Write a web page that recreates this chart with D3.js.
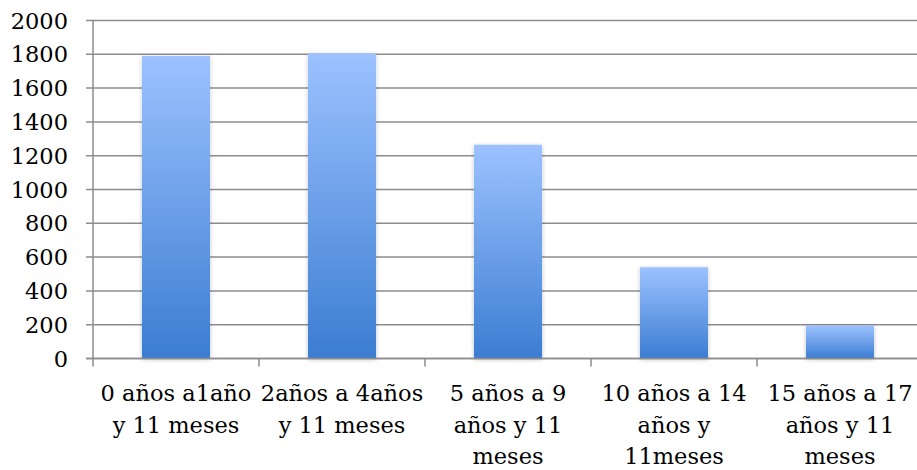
<!DOCTYPE html>
<html>
<head>
<meta charset="utf-8">
<script src="https://cdn.jsdelivr.net/npm/d3@7"></script>
<style>
  html, body { margin: 0; padding: 0; background: #fff; }
  svg { display: block; }
  text { font-family: "DejaVu Serif", "Liberation Serif", serif; fill: #000; }
</style>
</head>
<body>
<svg id="chart" width="917" height="470"></svg>
<script>
const categories = [
  "0 años a1año\ny 11 meses",
  "2años a 4años\ny 11 meses",
  "5 años a 9\naños y 11\nmeses",
  "10 años a 14\naños y\n11meses",
  "15 años a 17\naños y 11\nmeses"
];
const values = [1790, 1805, 1265, 540, 195];
const yTicks = [0, 200, 400, 600, 800, 1000, 1200, 1400, 1600, 1800, 2000];

const svg = d3.select("#chart");
const plotLeft = 93, plotRight = 923, plotTop = 20.5, plotBottom = 358.5;

const x = d3.scaleBand().domain(categories).range([plotLeft, plotRight]).paddingInner(0.59).paddingOuter(0.295);
const y = d3.scaleLinear().domain([0, 2000]).range([plotBottom, plotTop]);

const defs = svg.append("defs");
const grad = defs.append("linearGradient").attr("id", "barGrad")
  .attr("x1", 0).attr("y1", 0).attr("x2", 0).attr("y2", 1);
grad.append("stop").attr("offset", "0%").attr("stop-color", "#9cc2ff");
grad.append("stop").attr("offset", "100%").attr("stop-color", "#3b7dd2");

const filt = defs.append("filter").attr("id", "shadow")
  .attr("x", "-20%").attr("y", "-20%").attr("width", "140%").attr("height", "140%");
filt.append("feGaussianBlur").attr("in", "SourceAlpha").attr("stdDeviation", 2).attr("result", "b");
filt.append("feOffset").attr("in", "b").attr("dx", 0).attr("dy", 1).attr("result", "o");
filt.append("feComponentTransfer").attr("in", "o").attr("result", "s")
  .append("feFuncA").attr("type", "linear").attr("slope", 0.25);
const merge = filt.append("feMerge");
merge.append("feMergeNode").attr("in", "s");
merge.append("feMergeNode").attr("in", "SourceGraphic");

// gridlines + y ticks
svg.append("g").selectAll("line").data(yTicks).join("line")
  .attr("x1", plotLeft - 7).attr("x2", 917)
  .attr("y1", d => y(d)).attr("y2", d => y(d))
  .attr("stroke", "#8c8c8c").attr("stroke-width", 1.5);

// y axis line
svg.append("line").attr("x1", plotLeft).attr("x2", plotLeft)
  .attr("y1", plotTop).attr("y2", plotBottom)
  .attr("stroke", "#8c8c8c").attr("stroke-width", 1.5);

// y tick labels
svg.append("g").selectAll("text").data(yTicks).join("text")
  .attr("x", 68).attr("y", d => y(d))
  .attr("dy", "0.36em")
  .attr("text-anchor", "end")
  .style("font-size", "22.5px")
  .text(d => d);

// bars
svg.append("g").selectAll("rect").data(values).join("rect")
  .attr("x", (d, i) => x(categories[i]))
  .attr("width", x.bandwidth())
  .attr("y", d => y(d))
  .attr("height", d => y(0) - y(d))
  .attr("fill", "url(#barGrad)")
  .attr("filter", "url(#shadow)");

// x axis baseline redraw (above bars)
svg.append("line").attr("x1", plotLeft - 7).attr("x2", 917)
  .attr("y1", y(0)).attr("y2", y(0))
  .attr("stroke", "#8c8c8c").attr("stroke-width", 1.5);

// category tick marks at band boundaries
const step = x.step();
const boundaries = d3.range(categories.length + 1).map(i => plotLeft + i * step);
svg.append("g").selectAll("line").data(boundaries).join("line")
  .attr("x1", d => d).attr("x2", d => d)
  .attr("y1", y(0)).attr("y2", y(0) + 8)
  .attr("stroke", "#8c8c8c").attr("stroke-width", 1.5);

// category labels
const labels = svg.append("g").selectAll("text").data(categories).join("text")
  .attr("text-anchor", "middle")
  .attr("transform", d => `translate(${x(d) + x.bandwidth() / 2},0)`)
  .style("font-size", "22.5px");
labels.each(function(d) {
  const lines = d.split("\n");
  d3.select(this).selectAll("tspan").data(lines).join("tspan")
    .attr("x", 0)
    .attr("y", (l, i) => 401 + i * 31.5)
    .text(l => l);
});
</script>
</body>
</html>
